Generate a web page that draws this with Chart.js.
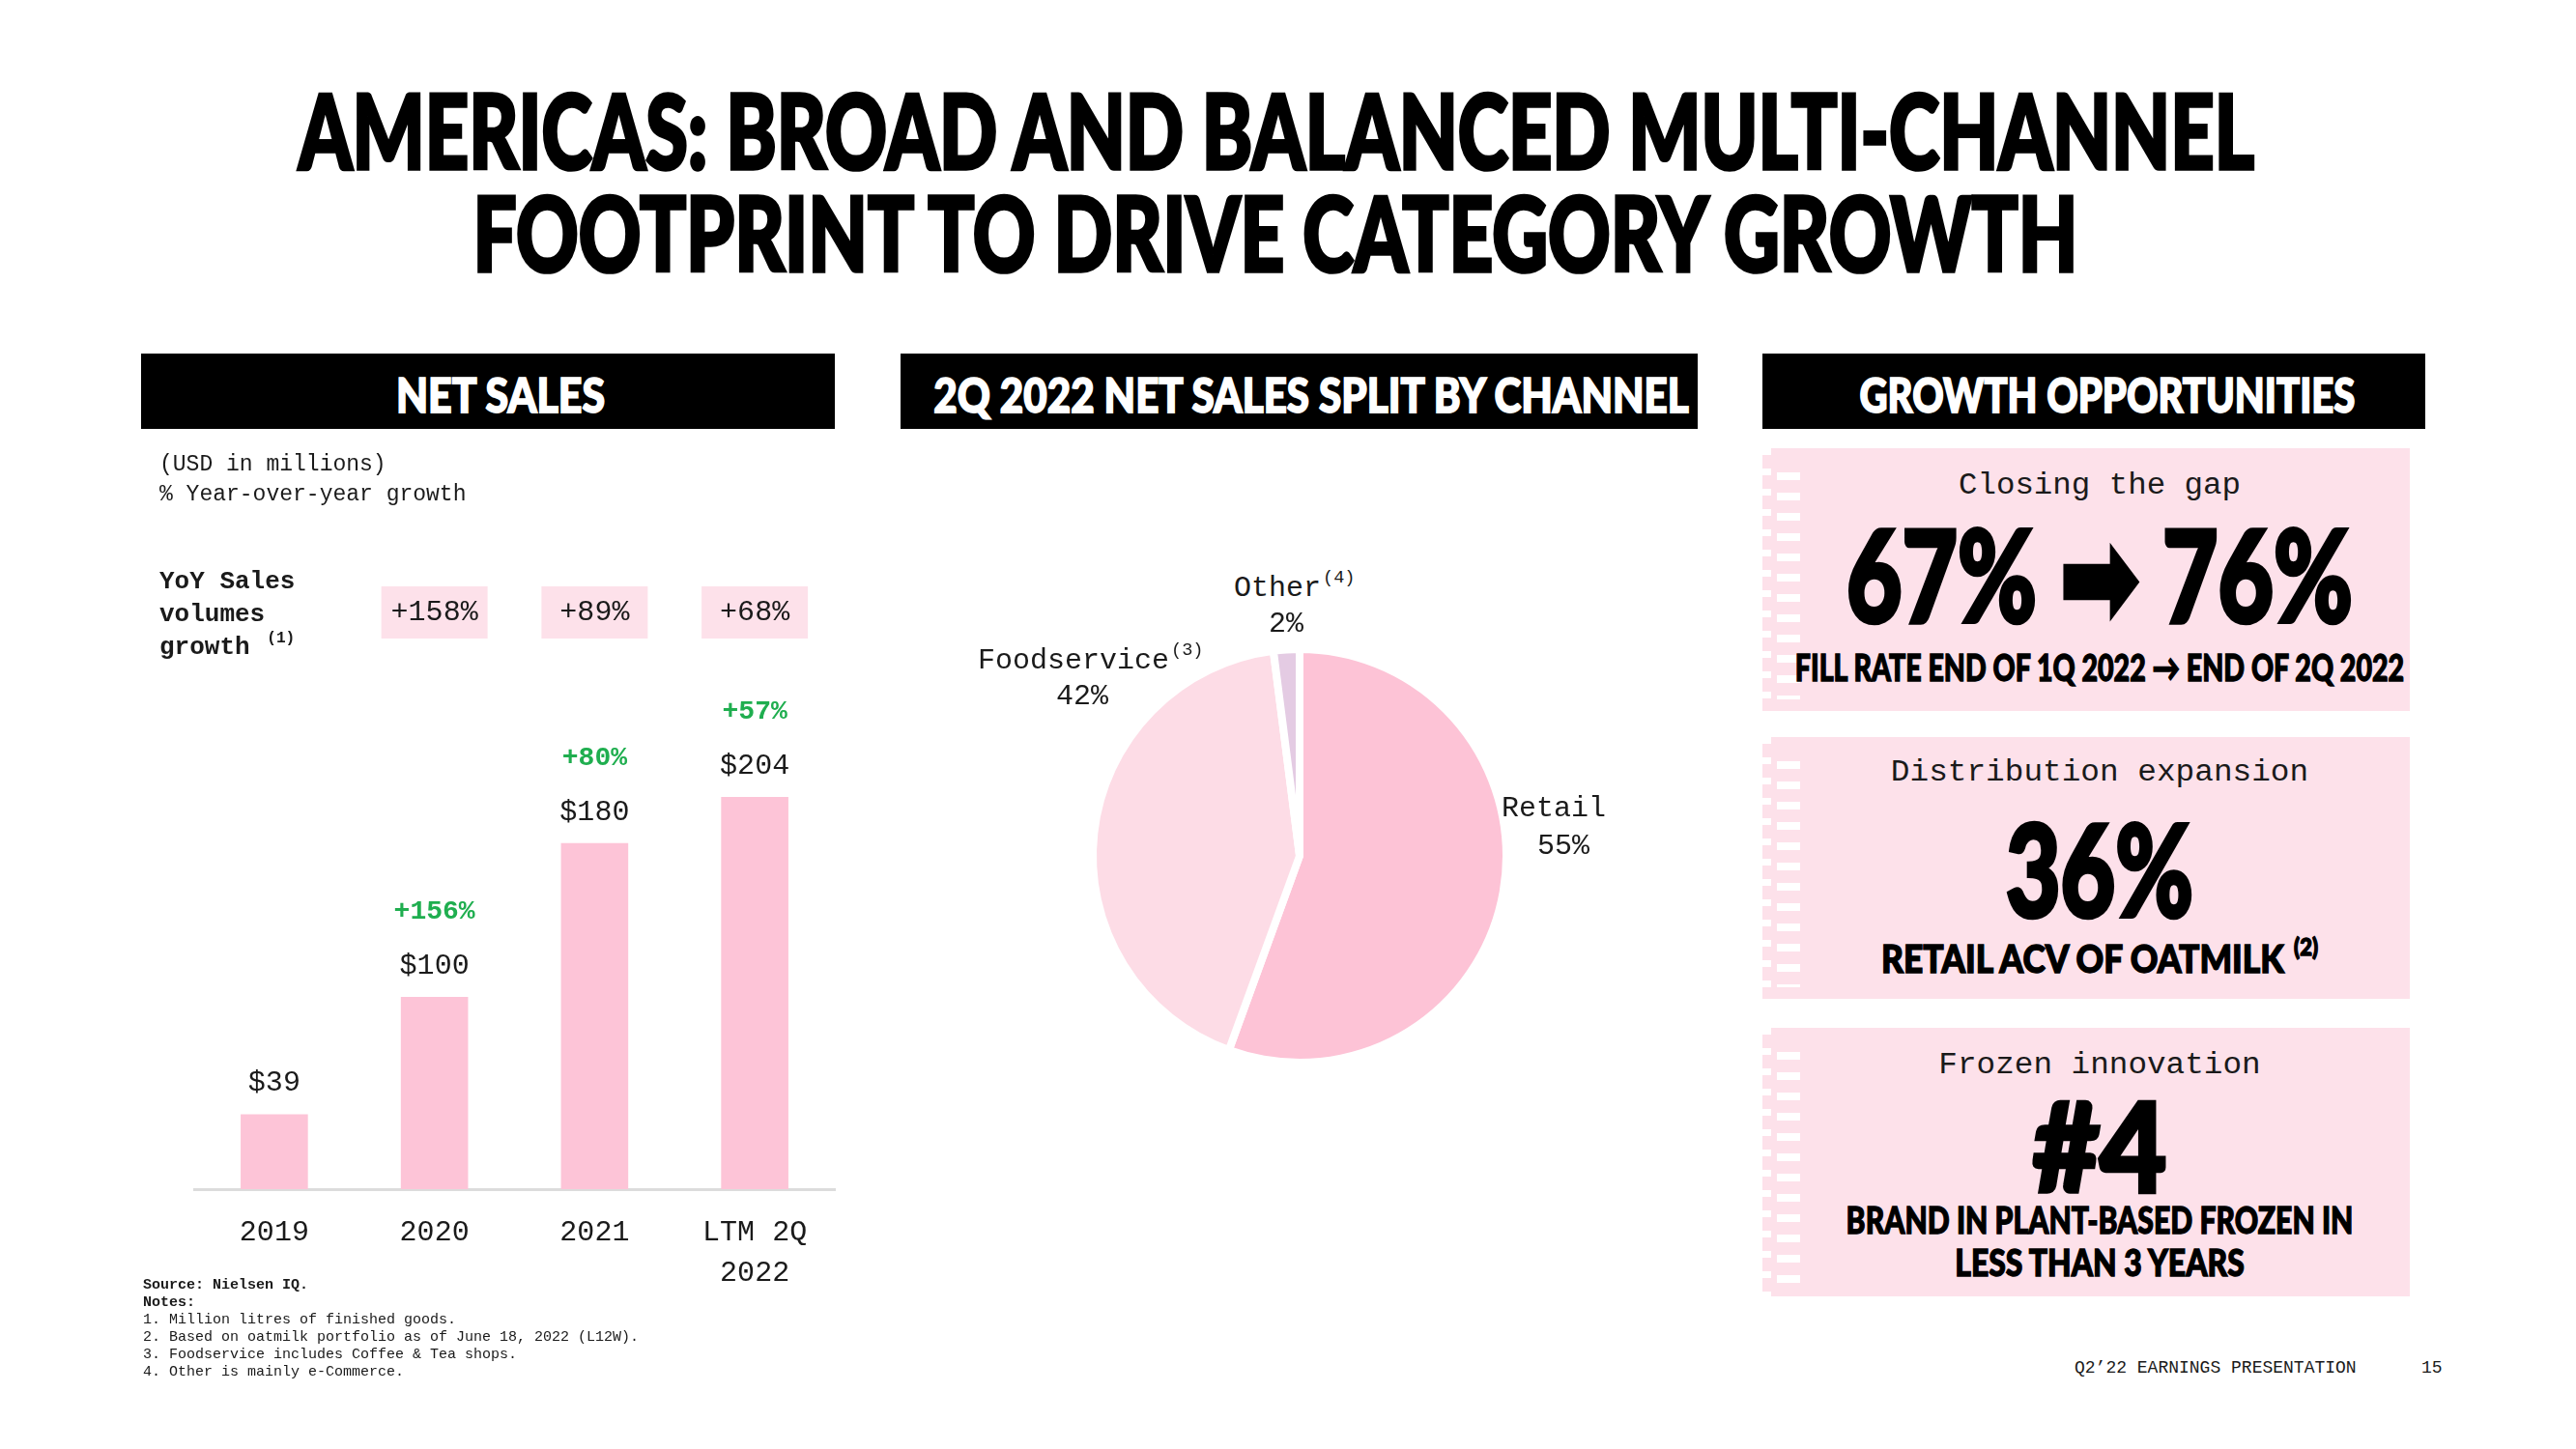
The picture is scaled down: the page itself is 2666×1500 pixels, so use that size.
<!DOCTYPE html>
<html>
<head>
<meta charset="utf-8">
<title>Americas net sales</title>
<script src="https://cdn.jsdelivr.net/npm/chart.js@4.4.0/dist/chart.umd.min.js"></script>
<style>
html, body { margin: 0; padding: 0; background: #fff; }
#slide { position: relative; width: 2666px; height: 1500px; overflow: hidden; background: #fff; color: #111; }
.t { position: absolute; white-space: nowrap; line-height: 1; }
.disp { font-family: Lato, "Open Sans", sans-serif; font-weight: 900; color: #000; -webkit-text-stroke-width: 0.035em; }
.mono { font-family: "Liberation Mono", "DejaVu Sans Mono", monospace; color: #1a1a1a; }
.hdr { position: absolute; background: #000; }
.card { position: absolute; background: #fde1ea; }
.card .edge { position: absolute; left: 0; top: 0; bottom: 0; width: 9px;
  background: repeating-linear-gradient(180deg, #fff 0 7px, transparent 7px 21px); }
.card .holes { position: absolute; left: 15px; top: 12px; bottom: 12px; width: 24px;
  background: repeating-linear-gradient(180deg, transparent 0 13px, #fff 13px 21px); }
sup { font-size: 0.62em; vertical-align: 0.75em; margin-left: 2px; }
.notes { position: absolute; left: 148px; top: 1322px; font-size: 15px; line-height: 18px; }
</style>
</head>
<body>
<div id="slide">
  <div class="hdr" style="left:146px;top:366px;width:718px;height:78px"></div>
  <div class="hdr" style="left:932px;top:366px;width:825px;height:78px"></div>
  <div class="hdr" style="left:1824px;top:366px;width:686px;height:78px"></div>

  <div class="card" style="left:1824px;top:464px;width:670px;height:272px"><div class="edge"></div><div class="holes"></div></div>
  <div class="card" style="left:1824px;top:763px;width:670px;height:271px"><div class="edge"></div><div class="holes"></div></div>
  <div class="card" style="left:1824px;top:1064px;width:670px;height:278px"><div class="edge"></div><div class="holes"></div></div>

  <canvas id="bars" width="730" height="890" style="position:absolute;left:146px;top:460px"></canvas>
  <canvas id="pie" width="480" height="480" style="position:absolute;left:1105px;top:646px"></canvas>

  <div class="notes mono">
    <b>Source: Nielsen IQ.</b><br>
    <b>Notes:</b><br>
    1. Million litres of finished goods.<br>
    2. Based on oatmilk portfolio as of June 18, 2022 (L12W).<br>
    3. Foodservice includes Coffee &amp; Tea shops.<br>
    4. Other is mainly e-Commerce.
  </div>
</div>

<script>
// chart data
const years = ['2019', '2020', '2021', ['LTM 2Q', '2022']];
const netSales = [39, 100, 180, 204];
const salesGrowth = [null, 156, 80, 57];
const volumeGrowth = [null, 158, 89, 68];

const channels = ['Retail', 'Foodservice', 'Other'];
const channelNotes = ['', '3', '4'];
const channelShare = [55, 42, 2];

const MONO = '"Liberation Mono", "DejaVu Sans Mono", monospace';
const slide = document.getElementById('slide');

// centred text, optionally squeezed to a target width
function put(html, cx, cy, cls, size, fitW) {
  const d = document.createElement('div');
  d.className = 't ' + cls;
  d.style.fontSize = size + 'px';
  d.innerHTML = html;
  d.style.left = cx + 'px';
  d.style.top = cy + 'px';
  slide.appendChild(d);
  const s = fitW ? fitW / d.offsetWidth : 1;
  d.style.transform = 'translate(-50%,-50%) scaleX(' + s + ')';
  return d;
}
// left aligned text
function putL(html, x, cy, cls, size) {
  const d = document.createElement('div');
  d.className = 't ' + cls;
  d.style.fontSize = size + 'px';
  d.innerHTML = html;
  d.style.left = x + 'px';
  d.style.top = cy + 'px';
  d.style.transform = 'translateY(-50%)';
  slide.appendChild(d);
  return d;
}

// title + headers
put('AMERICAS: BROAD AND BALANCED MULTI-CHANNEL', 1321, 134, 'disp', 106, 2024);
put('FOOTPRINT TO DRIVE CATEGORY GROWTH', 1320, 240, 'disp', 106, 1661);
put('NET SALES', 518, 408, 'disp', 50, 216).style.color = '#fff';
put('2Q 2022 NET SALES SPLIT BY CHANNEL', 1357, 408, 'disp', 50, 782).style.color = '#fff';
put('GROWTH OPPORTUNITIES', 2181, 408, 'disp', 50, 513).style.color = '#fff';

// left panel captions
putL('(USD in millions)', 165, 481, 'mono', 23);
putL('% Year-over-year growth', 165, 512, 'mono', 23);
putL('<b>YoY Sales</b>', 165, 602, 'mono', 26);
putL('<b>volumes</b>', 165, 636, 'mono', 26);
putL('<b>growth <sup>(1)</sup></b>', 165, 668, 'mono', 26);

// growth opportunity cards
const CX = 2173;
put('Closing the gap', CX, 502, 'mono', 31, 292);
put('67% <span style="font-family:\'DejaVu Sans\'">➡</span> 76%', CX, 595, 'disp', 132, 524);
put('FILL RATE END OF 1Q 2022 → END OF 2Q 2022', CX, 690, 'disp', 38, 630);
put('Distribution expansion', CX, 799, 'mono', 31, 432);
put('36%', CX, 898, 'disp', 132, 194);
put('RETAIL ACV OF OATMILK <sup>(2)</sup>', CX, 990, 'disp', 40, 452);
put('Frozen innovation', CX, 1102, 'mono', 31, 333);
put('#4', CX, 1185, 'disp', 128, 138);
put('BRAND IN PLANT-BASED FROZEN IN', CX, 1262, 'disp', 38, 525);
put('LESS THAN 3 YEARS', CX, 1306, 'disp', 38, 299);

// footer
putL('Q2\u201922 EARNINGS PRESENTATION', 2147, 1416, 'mono', 18);
putL('15', 2506, 1416, 'mono', 18);

// bar labels: value, sales growth, volume growth boxes
const barLabels = {
  id: 'barLabels',
  afterDatasetsDraw(chart) {
    const ctx = chart.ctx;
    const meta = chart.getDatasetMeta(0);
    ctx.save();
    ctx.textAlign = 'center';
    ctx.textBaseline = 'middle';
    meta.data.forEach(function(bar, i) {
      ctx.fillStyle = '#1a1a1a';
      ctx.font = '30px ' + MONO;
      ctx.fillText('$' + netSales[i], bar.x, bar.y - 32);
      if (salesGrowth[i] !== null) {
        ctx.fillStyle = '#1fae4f';
        ctx.font = 'bold 28px ' + MONO;
        ctx.fillText('+' + salesGrowth[i] + '%', bar.x, bar.y - 88);
      }
      if (volumeGrowth[i] !== null) {
        ctx.fillStyle = '#fde1ea';
        ctx.fillRect(bar.x - 55, 174 - 27, 110, 54);
        ctx.fillStyle = '#1a1a1a';
        ctx.font = '30px ' + MONO;
        ctx.fillText('+' + volumeGrowth[i] + '%', bar.x, 174);
      }
    });
    ctx.restore();
  }
};

new Chart(document.getElementById('bars'), {
  type: 'bar',
  data: {
    labels: years,
    datasets: [{
      data: netSales,
      backgroundColor: '#fdc4d7',
      barPercentage: 0.42,
      categoryPercentage: 1
    }]
  },
  options: {
    responsive: false,
    animation: false,
    devicePixelRatio: 1,
    layout: { padding: { left: 55, right: 12, top: 273.5, bottom: 9 } },
    plugins: { legend: { display: false }, tooltip: { enabled: false } },
    scales: {
      x: {
        grid: { display: false },
        border: { display: true, color: '#dcdcdc', width: 3 },
        ticks: { color: '#1a1a1a', padding: 17, font: { family: MONO, size: 30, lineHeight: 1.37 } },
        afterFit: function(s) { s.height = 110; }
      },
      y: { display: false, min: 0, max: 250 }
    }
  },
  plugins: [barLabels]
});

new Chart(document.getElementById('pie'), {
  type: 'pie',
  data: {
    labels: channels,
    datasets: [{
      data: channelShare,
      backgroundColor: ['#fdc3d6', '#fddce6', '#e4cbe3'],
      borderColor: '#fff',
      borderWidth: 8,
      hoverOffset: 0
    }]
  },
  options: {
    responsive: false,
    animation: false,
    devicePixelRatio: 1,
    radius: 214,
    plugins: { legend: { display: false }, tooltip: { enabled: false } }
  }
});

// channel labels, placed as in the slide
const pieLabelPos = [[1554, 837, 1591, 876], [1012, 682, 1093, 721], [1277, 607, 1313, 646]];
channels.forEach(function(name, i) {
  const p = pieLabelPos[i];
  const note = channelNotes[i] ? '<sup>(' + channelNotes[i] + ')</sup>' : '';
  putL(name + note, p[0], p[1], 'mono', 30);
  putL(channelShare[i] + '%', p[2], p[3], 'mono', 30);
});
</script>
</body>
</html>
